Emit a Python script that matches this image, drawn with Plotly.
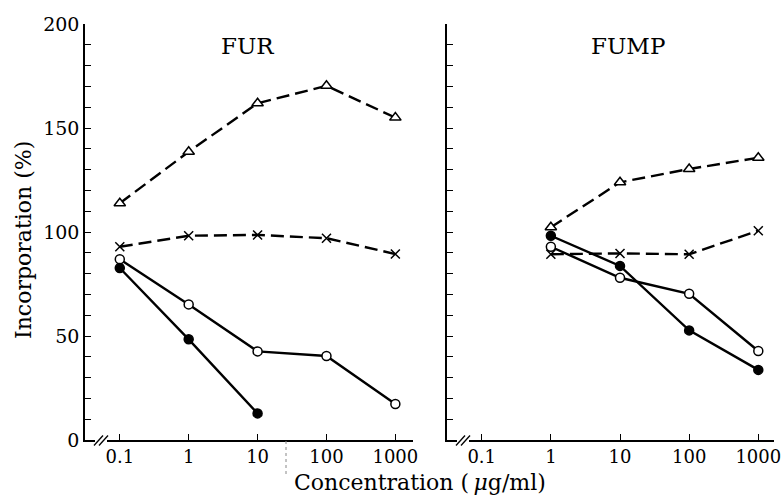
import plotly.graph_objects as go

# ---------------- data ----------------
conc_fur = [0.1, 1, 10, 100, 1000]
fur_triangle = [113.8, 138.6, 161.9, 170.3, 155.0]
fur_cross = [92.9, 98.2, 98.6, 97.0, 89.4]
fur_open = [86.9, 65.2, 42.6, 40.4, 17.3]
conc_fur_filled = [0.1, 1, 10]
fur_filled = [82.7, 48.4, 12.8]

conc_fump = [1, 10, 100, 1000]
fump_triangle = [102.3, 123.9, 130.3, 135.7]
fump_cross = [89.3, 89.7, 89.3, 100.6]
fump_open = [92.9, 78.0, 70.3, 42.8]
fump_filled = [98.2, 83.7, 52.7, 33.7]

x_tickvals = [0.1, 1, 10, 100, 1000]
x_ticktext = ["0.1", "1", "10", "100", "1000"]
y_tickvals = list(range(0, 201, 10))
y_ticktext = [str(v) if v % 50 == 0 else "" for v in y_tickvals]
panel_titles = ["FUR", "FUMP"]
y_title = "Incorporation (%)"
x_title = "Concentration (\u2009<i>μ</i>g/ml)"

W, H = 782, 497
FONT = "DejaVu Serif"


def px(x):
    return x / W


def py(y):
    return 1 - y / H


fig = go.Figure()

dash_style = "13px,6px"


def add_series(x, y, xa, ya, symbol, fill, dash, msize):
    fig.add_trace(go.Scatter(
        x=x, y=y, xaxis=xa, yaxis=ya, mode="lines+markers",
        line=dict(color="black", width=2.4, dash=dash),
        marker=dict(symbol=symbol, size=msize, color=fill,
                    line=dict(color="black", width=1.5)),
        showlegend=False, hoverinfo="skip"))


# FUR panel
add_series(conc_fur, fur_triangle, "x", "y", "triangle-up", "white", dash_style, 10)
add_series(conc_fur, fur_cross, "x", "y", "x-thin-open", "black", dash_style, 9)
add_series(conc_fur, fur_open, "x", "y", "circle", "white", "solid", 9)
add_series(conc_fur_filled, fur_filled, "x", "y", "circle", "black", "solid", 9)

# FUMP panel
add_series(conc_fump, fump_triangle, "x2", "y2", "triangle-up", "white", dash_style, 10)
add_series(conc_fump, fump_cross, "x2", "y2", "x-thin-open", "black", dash_style, 9)
add_series(conc_fump, fump_open, "x2", "y2", "circle", "white", "solid", 9)
add_series(conc_fump, fump_filled, "x2", "y2", "circle", "black", "solid", 9)

ydom = [py(440), py(24)]

xaxis_common = dict(
    type="log", showgrid=False, zeroline=False, showline=True,
    linecolor="black", linewidth=1.6, ticks="inside", ticklen=6,
    tickwidth=1.3, tickcolor="black", tickmode="array", tickvals=x_tickvals,
    ticktext=x_ticktext, tickfont=dict(family=FONT, size=18, color="black"),
    ticklabeloverflow="allow", automargin=False,
)
yaxis_common = dict(
    range=[0, 200], showgrid=False, zeroline=False, showline=True,
    linecolor="black", linewidth=1.6, ticks="inside", ticklen=6,
    tickwidth=1.3, tickcolor="black", tickmode="array",
    tickvals=y_tickvals, ticktext=y_ticktext,
    tickfont=dict(family=FONT, size=19, color="black"),
    ticklabeloverflow="allow", domain=ydom, automargin=False,
)

fig.update_layout(
    width=W, height=H,
    margin=dict(l=0, r=0, t=0, b=0),
    paper_bgcolor="white", plot_bgcolor="white",
    xaxis=dict(xaxis_common, domain=[px(85), px(413)],
               range=[-1.505, 3.256], anchor="y"),
    yaxis=dict(yaxis_common, anchor="x"),
    xaxis2=dict(xaxis_common, domain=[px(447), px(774)],
                range=[-1.502, 3.227], anchor="y2"),
    yaxis2=dict(yaxis_common, anchor="x2", showticklabels=False),
)

# panel titles
for title, cx in zip(panel_titles, [247, 628]):
    fig.add_annotation(text=title, x=px(cx), y=py(46), xref="paper", yref="paper",
                       showarrow=False, xanchor="center", yanchor="middle",
                       font=dict(family=FONT, size=23, color="black"))

# axis titles
fig.add_annotation(text=y_title, x=px(23), y=py(240), xref="paper", yref="paper",
                   showarrow=False, textangle=-90, xanchor="center", yanchor="middle",
                   font=dict(family=FONT, size=22, color="black"))
fig.add_annotation(text=x_title, x=px(420), y=py(482), xref="paper", yref="paper",
                   showarrow=False, xanchor="center", yanchor="middle",
                   font=dict(family=FONT, size=22, color="black"))

# axis break marks
for ax0 in [85, 447]:
    fig.add_shape(type="rect", xref="paper", yref="paper",
                  x0=px(ax0 + 10), x1=px(ax0 + 22), y0=py(443), y1=py(436),
                  fillcolor="white", line=dict(width=0), layer="above")
    for off in [9, 14]:
        fig.add_shape(type="line", xref="paper", yref="paper",
                      x0=px(ax0 + off), y0=py(445.5),
                      x1=px(ax0 + off + 9), y1=py(435.5),
                      line=dict(color="black", width=1.3), layer="above")

# faint scan artifact line
fig.add_shape(type="line", xref="paper", yref="paper",
              x0=px(286), x1=px(286), y0=py(441), y1=py(476),
              line=dict(color="#888888", width=1, dash="dot"), layer="above")

fig.write_html("out.html")
